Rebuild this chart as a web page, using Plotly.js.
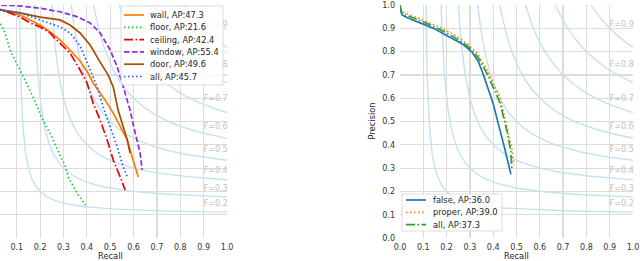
<!DOCTYPE html>
<html><head><meta charset="utf-8">
<script src="https://cdn.plot.ly/plotly-3.0.1.min.js"></script>
<style>html,body{margin:0;padding:0;background:#fff}#chart{width:640px;height:261px}</style>
</head><body><div id="chart"></div>
<script>
// ---------- Left panel: per-class PR curves ----------
const leftNames = ['wall', 'floor', 'ceiling', 'window', 'door', 'all'];
const leftAP = [47.3, 21.6, 42.4, 55.4, 49.6, 45.7];

const wallRecall = [0.0, 0.028, 0.071, 0.114, 0.157, 0.200, 0.243, 0.285, 0.328, 0.371, 0.405, 0.427, 0.457, 0.487, 0.513, 0.543, 0.573, 0.594, 0.620];
const wallPrecision = [1.0, 0.983, 0.966, 0.957, 0.936, 0.914, 0.884, 0.850, 0.807, 0.760, 0.708, 0.665, 0.622, 0.579, 0.536, 0.476, 0.421, 0.348, 0.262];

const floorRecall = [0.0, 0.012, 0.028, 0.042, 0.057, 0.071, 0.093, 0.114, 0.135, 0.170, 0.208, 0.234, 0.251, 0.294, 0.307, 0.320, 0.358, 0.395];
const floorPrecision = [1.0, 0.97, 0.923, 0.897, 0.858, 0.807, 0.764, 0.721, 0.678, 0.605, 0.515, 0.464, 0.433, 0.335, 0.313, 0.262, 0.193, 0.140];

const ceilingRecall = [0.0, 0.028, 0.071, 0.114, 0.157, 0.200, 0.222, 0.243, 0.262, 0.285, 0.328, 0.371, 0.401, 0.427, 0.457, 0.487, 0.513, 0.543, 0.564];
const ceilingPrecision = [1.0, 0.979, 0.966, 0.948, 0.923, 0.906, 0.893, 0.880, 0.858, 0.837, 0.794, 0.721, 0.665, 0.579, 0.506, 0.421, 0.335, 0.262, 0.206];

const windowRecall = [0.0, 0.028, 0.114, 0.200, 0.285, 0.358, 0.414, 0.457, 0.500, 0.530, 0.556, 0.585, 0.607, 0.628, 0.637];
const windowPrecision = [1.0, 1.0, 0.996, 0.986, 0.971, 0.950, 0.923, 0.880, 0.807, 0.734, 0.648, 0.549, 0.451, 0.365, 0.292];

const doorRecall = [0.0, 0.028, 0.114, 0.200, 0.285, 0.328, 0.371, 0.414, 0.457, 0.491, 0.513, 0.534, 0.556, 0.573, 0.585];
const doorPrecision = [1.0, 0.979, 0.966, 0.948, 0.936, 0.914, 0.880, 0.828, 0.755, 0.700, 0.648, 0.549, 0.476, 0.421, 0.365];

const allLeftRecall = [0.0, 0.028, 0.114, 0.200, 0.285, 0.328, 0.371, 0.397, 0.423, 0.444, 0.470, 0.500, 0.530, 0.556, 0.573];
const allLeftPrecision = [1.0, 0.979, 0.966, 0.936, 0.906, 0.880, 0.824, 0.764, 0.700, 0.648, 0.562, 0.476, 0.391, 0.305, 0.262];

// ---------- Right panel ----------
const rightNames = ['false', 'proper', 'all'];
const rightAP = [36.0, 39.0, 37.3];

const falseRecall = [0.0, 0.003, 0.009, 0.034, 0.094, 0.150, 0.206, 0.266, 0.309, 0.335, 0.356, 0.373, 0.399, 0.421, 0.429, 0.451, 0.476];
const falsePrecision = [1.0, 0.975, 0.957, 0.944, 0.920, 0.897, 0.866, 0.834, 0.798, 0.760, 0.706, 0.655, 0.579, 0.494, 0.464, 0.378, 0.273];

const properRecall = [0.0, 0.003, 0.009, 0.064, 0.120, 0.180, 0.236, 0.292, 0.335, 0.378, 0.408, 0.429, 0.459, 0.481, 0.489];
const properPrecision = [1.0, 0.985, 0.972, 0.950, 0.928, 0.901, 0.870, 0.832, 0.788, 0.712, 0.648, 0.605, 0.476, 0.378, 0.313];

const allRightRecall = [0.0, 0.003, 0.009, 0.064, 0.120, 0.180, 0.236, 0.292, 0.335, 0.378, 0.408, 0.429, 0.459, 0.476, 0.480];
const allRightPrecision = [1.0, 0.98, 0.964, 0.942, 0.919, 0.891, 0.860, 0.822, 0.776, 0.697, 0.630, 0.580, 0.460, 0.370, 0.292];

// iso-F reference levels
const fScores = [0.2, 0.3, 0.4, 0.5, 0.6, 0.7, 0.8, 0.9];
const tickVals = [0.0, 0.1, 0.2, 0.3, 0.4, 0.5, 0.6, 0.7, 0.8, 0.9, 1.0];

// ---------- styles ----------
const leftStyles = [
  {color: '#ff7c00', dash: 'solid'},
  {color: '#1ac938', dash: '1.5px,2.5px'},
  {color: '#e8000b', dash: '9px,2.5px,1.5px,2.5px'},
  {color: '#8b2be2', dash: '5.5px,2.5px'},
  {color: '#a64d00', dash: 'solid'},
  {color: '#1f5cff', dash: '1.5px,2.5px'}
];
const rightStyles = [
  {color: '#1f77b4', dash: 'solid'},
  {color: '#ff7f0e', dash: '1.5px,2.5px'},
  {color: '#2ca02c', dash: '9px,2.5px,1.5px,2.5px'}
];
const leftData = [[wallRecall, wallPrecision], [floorRecall, floorPrecision], [ceilingRecall, ceilingPrecision],
                  [windowRecall, windowPrecision], [doorRecall, doorPrecision], [allLeftRecall, allLeftPrecision]];
const rightData = [[falseRecall, falsePrecision], [properRecall, properPrecision], [allRightRecall, allRightPrecision]];

const W = 640, H = 261;
const px = v => v / W, py = v => 1 - v / H;
const FONT = 'DejaVu Sans, sans-serif';
const fColor = 'rgb(196,226,241)';

const traces = [];
const annotations = [];
const shapes = [];

function isoF(f) {
  const r = [], p = [];
  for (let i = 0; i <= 1200; i++) {
    const x = 0.01 + i * 0.99 / 1200;
    const d = 2 * x - f;
    if (d <= 0) continue;
    const y = f * x / d;
    if (y < 0 || y > 1.4) continue;
    r.push(x); p.push(y);
  }
  return {r, p};
}

[['x', 'y'], ['x2', 'y2']].forEach(([xa, ya]) => {
  const lx = [], ly = [], lt = [];
  fScores.forEach(f => {
    const c = isoF(f);
    traces.push({x: c.r, y: c.p, xaxis: xa, yaxis: ya, mode: 'lines', showlegend: false, hoverinfo: 'skip',
      line: {color: fColor, width: 1.4}});
    const x45 = 0.01 + 45 * 0.99 / 49;
    const y45 = f * x45 / (2 * x45 - f);
    lx.push(0.9); ly.push(y45 + 0.033); lt.push('F=' + f.toFixed(1));
  });
  traces.push({x: lx, y: ly, text: lt, xaxis: xa, yaxis: ya, mode: 'text', textposition: 'middle right',
    cliponaxis: false, showlegend: false, hoverinfo: 'skip',
    textfont: {family: FONT, size: 8, color: '#c2c2c2'}});
});

leftData.forEach((d, i) => {
  traces.push({x: d[0], y: d[1], xaxis: 'x', yaxis: 'y', mode: 'lines', showlegend: false, hoverinfo: 'skip',
    line: {color: leftStyles[i].color, dash: leftStyles[i].dash, width: 1.7}});
});
rightData.forEach((d, i) => {
  traces.push({x: d[0], y: d[1], xaxis: 'x2', yaxis: 'y2', mode: 'lines', showlegend: false, hoverinfo: 'skip',
    line: {color: rightStyles[i].color, dash: rightStyles[i].dash, width: 1.7}});
});

// custom legends (matplotlib-like compact legend)
function addLegend(names, aps, styles, box, rowY0, rowStep, lineX0, lineX1, textX) {
  shapes.push({type: 'rect', xref: 'paper', yref: 'paper', x0: px(box[0]), x1: px(box[2]), y0: py(box[1]), y1: py(box[3]),
    line: {color: '#d4d4d4', width: 0.8}, fillcolor: 'rgba(255,255,255,0.82)', layer: 'above'});
  names.forEach((n, i) => {
    const yy = rowY0 + i * rowStep;
    shapes.push({type: 'line', xref: 'paper', yref: 'paper', x0: px(lineX0), x1: px(lineX1), y0: py(yy), y1: py(yy),
      line: {color: styles[i].color, dash: styles[i].dash, width: 1.7}, layer: 'above'});
    annotations.push({xref: 'paper', yref: 'paper', x: px(textX), y: py(yy), xanchor: 'left', yanchor: 'middle',
      text: n + ', AP:' + aps[i].toFixed(1), showarrow: false, font: {family: FONT, size: 8.3, color: '#262626'}});
  });
}
addLegend(leftNames, leftAP, leftStyles, [121, 6, 223, 85], 15, 12.3, 124, 144, 148);
addLegend(rightNames, rightAP, rightStyles, [402, 194, 502, 231], 200, 12.3, 406, 426, 431);

// axis titles
annotations.push({xref: 'paper', yref: 'paper', x: px(110.5), y: py(255.5), xanchor: 'center', yanchor: 'middle',
  text: 'Recall', showarrow: false, font: {family: FONT, size: 8.3, color: '#262626'}});
annotations.push({xref: 'paper', yref: 'paper', x: px(516.5), y: py(255.5), xanchor: 'center', yanchor: 'middle',
  text: 'Recall', showarrow: false, font: {family: FONT, size: 8.3, color: '#262626'}});
annotations.push({xref: 'paper', yref: 'paper', x: px(372), y: py(121.5), xanchor: 'center', yanchor: 'middle',
  text: 'Precision', textangle: -90, showarrow: false, font: {family: FONT, size: 8.3, color: '#262626'}});

const gridCol = '#dcdcdc';
const axBase = {tickvals: tickVals, tickformat: '.1f', showgrid: true, gridcolor: gridCol, gridwidth: 1.2,
  zeroline: false, showline: false, ticks: '', tickfont: {family: FONT, size: 8, color: '#333'}, fixedrange: true};

const yDom = [py(238), py(5)];
const layout = {
  width: W, height: H, margin: {l: 0, r: 0, t: 0, b: 0}, paper_bgcolor: '#fff', plot_bgcolor: '#fff',
  showlegend: false,
  xaxis: Object.assign({}, axBase, {domain: [0, px(227)], range: [6.6 / 233.6, 1.0], anchor: 'y', ticklabelstandoff: 3}),
  yaxis: Object.assign({}, axBase, {domain: yDom, range: [0, 1], anchor: 'x', showticklabels: false}),
  xaxis2: Object.assign({}, axBase, {domain: [px(400), px(633)], range: [0, 1], anchor: 'y2', ticklabelstandoff: 3}),
  yaxis2: Object.assign({}, axBase, {domain: yDom, range: [0, 1], anchor: 'x2', ticklabelstandoff: 4}),
  annotations: annotations, shapes: shapes
};

Plotly.newPlot('chart', traces, layout, {staticPlot: true, displayModeBar: false});
</script>
</body></html>
